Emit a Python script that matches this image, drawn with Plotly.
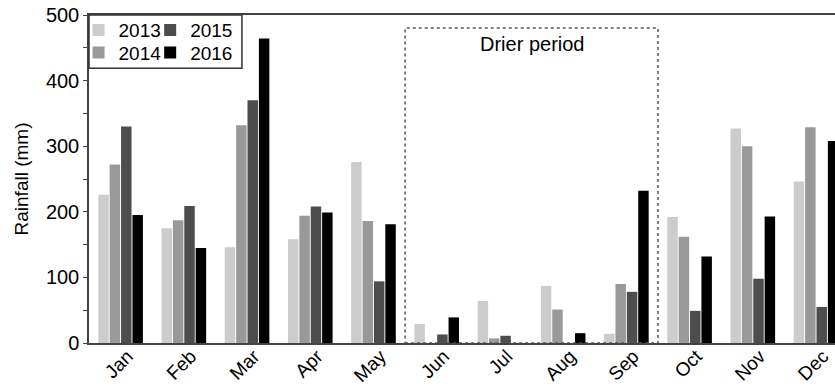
import plotly.graph_objects as go

months = ["Jan", "Feb", "Mar", "Apr", "May", "Jun", "Jul", "Aug", "Sep", "Oct", "Nov", "Dec"]
years = ["2013", "2014", "2015", "2016"]
r2013 = [226, 175, 146, 158, 276, 29, 64, 87, 14, 192, 327, 246]
r2014 = [272, 187, 332, 194, 186, 0, 7, 51, 90, 162, 300, 329]
r2015 = [330, 209, 370, 208, 94, 13, 11, 0, 78, 49, 98, 55]
r2016 = [195, 145, 464, 199, 181, 39, 0, 15, 232, 132, 193, 308]
series = [r2013, r2014, r2015, r2016]
colors = ["#cccccc", "#999999", "#4d4d4d", "#000000"]
legend_ids = ["legend", "legend2", "legend3", "legend4"]

FONT = "Liberation Sans, Arial, sans-serif"

fig = go.Figure()
for y, vals, c, lg in zip(years, series, colors, legend_ids):
    fig.add_trace(go.Bar(x=months, y=vals, name=y, marker=dict(color=c, line=dict(width=0)),
                         legend=lg))

fig.add_shape(type="rect", xref="x", yref="y", x0=4.5, x1=8.5, y0=0, y1=480,
              line=dict(color="#555555", width=1.5, dash="dot"))
fig.add_annotation(x=6.5, y=456, xref="x", yref="y", text="Drier period", showarrow=False,
                   font=dict(size=20, color="#000000", family=FONT))
# legend frame
fig.add_shape(type="rect", xref="paper", yref="paper", x0=0, x1=0.205, y0=0.838, y1=1,
              line=dict(color="#333333", width=1.5), fillcolor="rgba(0,0,0,0)", layer="above")

def leg(x, y):
    return dict(orientation="v", x=x, y=y, yanchor="middle", xanchor="left",
                bgcolor="rgba(0,0,0,0)", borderwidth=0, font=dict(size=19, family=FONT),
                itemwidth=30, tracegroupgap=0)

col1, col2 = -0.014, 0.082
row1, row2 = 0.954, 0.885

fig.update_layout(
    width=835, height=387,
    margin=dict(l=89, r=0, t=15, b=44),
    paper_bgcolor="white", plot_bgcolor="white",
    font=dict(family=FONT, size=20, color="#000000"),
    barmode="group", bargap=0.28, bargroupgap=0.08,
    showlegend=True,
    legend=leg(col1, row1),
    legend2=leg(col1, row2),
    legend3=leg(col2, row1),
    legend4=leg(col2, row2),
)
fig.update_xaxes(range=[-0.5, 11.3], showline=True, linecolor="#444444", linewidth=1.5,
                 mirror=True, ticks="", tickangle=-45, showgrid=False, automargin=False,
                 ticklabelshift=7, ticklabelstandoff=-7,
                 tickfont=dict(size=19, family=FONT))
fig.update_yaxes(range=[0, 500], showline=True, linecolor="#444444", linewidth=1.5,
                 mirror=False, ticks="outside", ticklen=4, tickcolor="#444444",
                 tickvals=[0, 100, 200, 300, 400, 500], showgrid=False, zeroline=False,
                 automargin=False,
                 minor=dict(tickvals=[50, 150, 250, 350, 450], ticks="outside", ticklen=4,
                            tickcolor="#444444", showgrid=False),
                 title=dict(text="Rainfall (mm)", font=dict(size=19, family=FONT), standoff=12),
                 tickfont=dict(size=20, family=FONT))

fig.write_html("out.html")
